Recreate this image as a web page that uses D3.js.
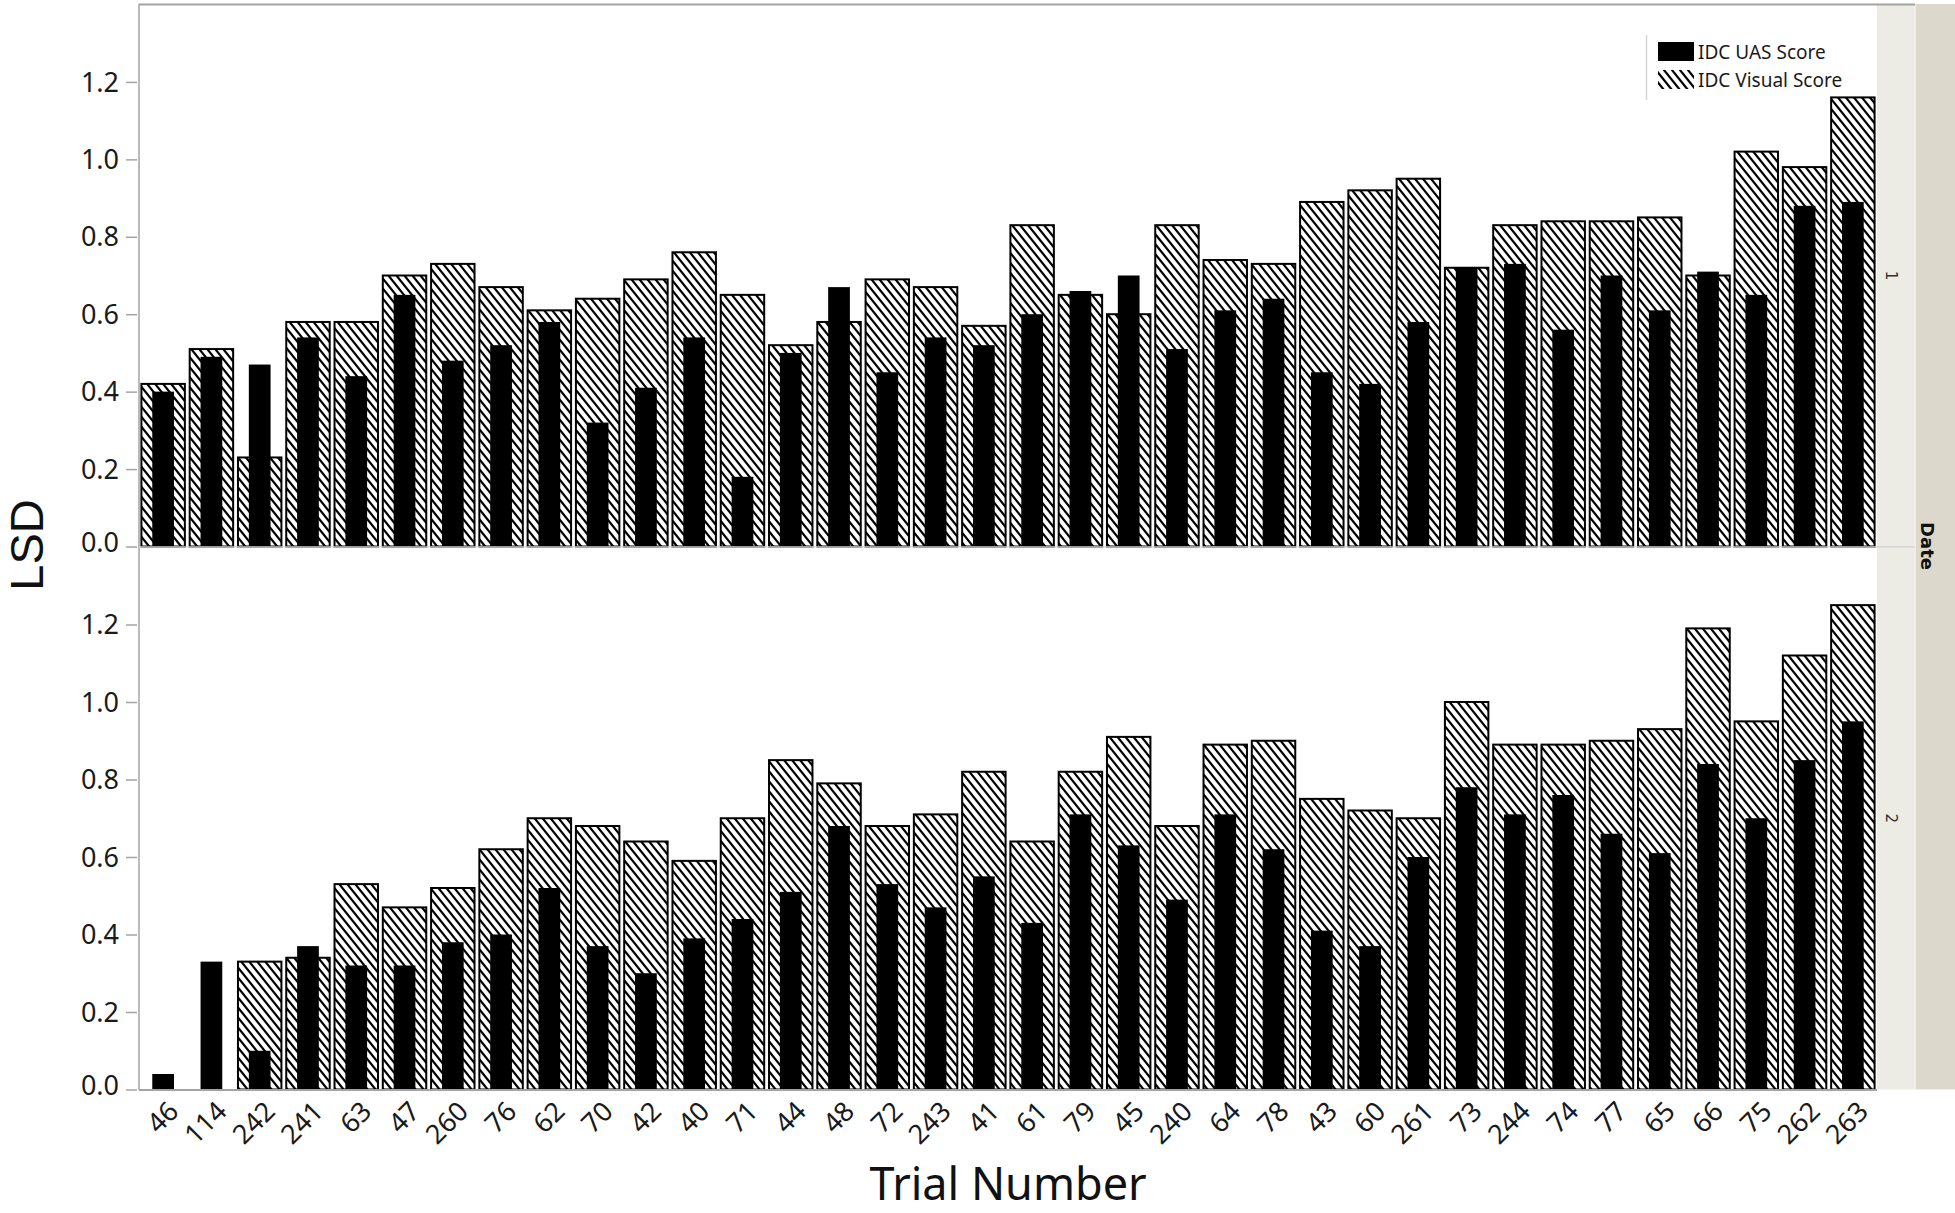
<!DOCTYPE html>
<html>
<head>
<meta charset="utf-8">
<script src="https://cdn.jsdelivr.net/npm/d3@7"></script>
<style>
  html, body { margin: 0; padding: 0; background: #fff; }
  svg { display: block; }
</style>
</head>
<body>
<svg id="chart" width="1955" height="1213"></svg>
<script>
// ---------------- data ----------------
const trials = ["46","114","242","241","63","47","260","76","62","70","42","40","71","44","48","72","243","41","61","79","45","240","64","78","43","60","261","73","244","74","77","65","66","75","262","263"];

const date1UAS    = [0.40,0.49,0.47,0.54,0.44,0.65,0.48,0.52,0.58,0.32,0.41,0.54,0.18,0.50,0.67,0.45,0.54,0.52,0.60,0.66,0.70,0.51,0.61,0.64,0.45,0.42,0.58,0.72,0.73,0.56,0.70,0.61,0.71,0.65,0.88,0.89];
const date1Visual = [0.42,0.51,0.23,0.58,0.58,0.70,0.73,0.67,0.61,0.64,0.69,0.76,0.65,0.52,0.58,0.69,0.67,0.57,0.83,0.65,0.60,0.83,0.74,0.73,0.89,0.92,0.95,0.72,0.83,0.84,0.84,0.85,0.70,1.02,0.98,1.16];
const date2UAS    = [0.04,0.33,0.10,0.37,0.32,0.32,0.38,0.40,0.52,0.37,0.30,0.39,0.44,0.51,0.68,0.53,0.47,0.55,0.43,0.71,0.63,0.49,0.71,0.62,0.41,0.37,0.60,0.78,0.71,0.76,0.66,0.61,0.84,0.70,0.85,0.95];
const date2Visual = [null,null,0.33,0.34,0.53,0.47,0.52,0.62,0.70,0.68,0.64,0.59,0.70,0.85,0.79,0.68,0.71,0.82,0.64,0.82,0.91,0.68,0.89,0.90,0.75,0.72,0.70,1.00,0.89,0.89,0.90,0.93,1.19,0.95,1.12,1.25];

const dateLabels = ["1","2"];
const yTicks = [0, 0.2, 0.4, 0.6, 0.8, 1.0, 1.2];
const seriesNames = ["IDC UAS Score","IDC Visual Score"];
const xTitle = "Trial Number";
const yTitle = "LSD";
const stripTitle = "Date";

// ---------------- layout ----------------
const svg = d3.select("#chart");
const plotL = 139, plotR = 1877, stripR1 = 1915, W = 1955;
const panels = [
  {top: 4.5, bottom: 546.5, uas: date1UAS, vis: date1Visual, label: dateLabels[0]},
  {top: 547, bottom: 1089.5, uas: date2UAS, vis: date2Visual, label: dateLabels[1]}
];
const gray = "#a3a3a3";
const fontMain = "'Noto Sans', 'Open Sans', sans-serif";

svg.append("rect").attr("width", W).attr("height", 1213).attr("fill", "#fff");

// hatch pattern
const defs = svg.append("defs");
const pat = defs.append("pattern").attr("id", "hatch")
  .attr("patternUnits", "userSpaceOnUse").attr("width", 8).attr("height", 10);
pat.append("rect").attr("width", 8).attr("height", 10).attr("fill", "#fff");
pat.append("path")
  .attr("d", "M-4,-5 L12,15 M-4,5 L4,15 M4,-5 L12,5")
  .attr("stroke", "#000").attr("stroke-width", 2.2).attr("fill", "none");

const x = d3.scaleBand().domain(trials).range([plotL, plotR]).paddingInner(0.1).paddingOuter(0.05);
const bw = x.bandwidth();

// strips
svg.append("rect").attr("x", plotR).attr("y", 4).attr("width", stripR1 - plotR).attr("height", 1089.5 - 4).attr("fill", "#ecebe4");
svg.append("rect").attr("x", stripR1).attr("y", 4).attr("width", W - stripR1).attr("height", 1089.5 - 4).attr("fill", "#dcd9cc");
svg.append("line").attr("x1", stripR1).attr("x2", stripR1).attr("y1", 4).attr("y2", 1089.5).attr("stroke", "#f4f3ee").attr("stroke-width", 1.5);

panels.forEach((p, pi) => {
  const y = d3.scaleLinear().domain([0, 1.4]).range([p.bottom, p.top]);
  const g = svg.append("g");

  // y axis ticks and labels
  const axis = d3.axisLeft(y).tickValues(yTicks).tickFormat(d3.format(".1f")).tickSize(11).tickPadding(7);
  const ag = g.append("g").attr("transform", `translate(${plotL - 2},0)`).call(axis);
  ag.select(".domain").remove();
  ag.selectAll(".tick line").attr("stroke", gray).attr("stroke-width", 1.5);
  ag.selectAll(".tick text")
    .attr("font-family", fontMain).attr("font-size", 27).attr("fill", "#1a1a1a")
    .attr("dy", d => d === 0 ? "0.2em" : "0.34em");

  // bars: hatched visual
  g.append("g").selectAll("rect").data(trials.map((t, i) => ({t, v: p.vis[i]})).filter(d => d.v != null))
    .join("rect")
    .attr("x", d => x(d.t)).attr("width", bw)
    .attr("y", d => y(d.v)).attr("height", d => y(0) - y(d.v))
    .attr("fill", "url(#hatch)").attr("stroke", "#000").attr("stroke-width", 2);

  // bars: solid UAS
  g.append("g").selectAll("rect").data(trials.map((t, i) => ({t, v: p.uas[i]})).filter(d => d.v != null))
    .join("rect")
    .attr("x", d => x(d.t) + bw / 4).attr("width", bw / 2)
    .attr("y", d => y(d.v)).attr("height", d => y(0) - y(d.v))
    .attr("fill", "#000");

  // strip label
  svg.append("text")
    .attr("transform", `translate(1886,${(p.top + p.bottom) / 2}) rotate(90)`)
    .attr("text-anchor", "middle").attr("font-family", "'DejaVu Sans', sans-serif")
    .attr("font-size", 15).attr("fill", "#333").text(p.label);
});

// frame lines
svg.append("line").attr("x1", plotL).attr("x2", stripR1).attr("y1", 4.5).attr("y2", 4.5).attr("stroke", gray).attr("stroke-width", 2);
svg.append("line").attr("x1", plotL).attr("x2", plotL).attr("y1", 4).attr("y2", 1090).attr("stroke", gray).attr("stroke-width", 1.5);
svg.append("line").attr("x1", plotL).attr("x2", stripR1).attr("y1", 546.8).attr("y2", 546.8).attr("stroke", "#cfcfcf").attr("stroke-width", 1.2);
svg.append("line").attr("x1", plotL).attr("x2", plotR).attr("y1", 1090).attr("y2", 1090).attr("stroke", gray).attr("stroke-width", 2);

// x labels
svg.append("g").selectAll("text").data(trials).join("text")
  .attr("transform", d => `translate(${x(d) + bw / 2 + 17},${1113}) rotate(-45)`)
  .attr("text-anchor", "end")
  .attr("font-family", fontMain).attr("font-size", 27).attr("fill", "#1a1a1a")
  .text(d => d);

// axis titles
svg.append("text").attr("x", (plotL + plotR) / 2).attr("y", 1199.5)
  .attr("text-anchor", "middle").attr("font-family", fontMain).attr("font-size", 45).attr("fill", "#111")
  .text(xTitle);
svg.append("text").attr("transform", "translate(43,545) rotate(-90)")
  .attr("text-anchor", "middle").attr("font-family", "'Liberation Sans', Arial, sans-serif").attr("font-size", 47).attr("fill", "#111")
  .text(yTitle);

// strip title
svg.append("text").attr("transform", "translate(1921,546) rotate(90)")
  .attr("text-anchor", "middle").attr("font-family", "'DejaVu Sans', sans-serif").attr("font-weight", "bold")
  .attr("font-size", 18).attr("fill", "#111").text(stripTitle);

// legend
const lg = svg.append("g");
lg.append("line").attr("x1", 1646.5).attr("x2", 1646.5).attr("y1", 35).attr("y2", 100).attr("stroke", "#d4d4d4").attr("stroke-width", 1.5);
lg.append("rect").attr("x", 1658).attr("y", 42).attr("width", 36).attr("height", 19).attr("fill", "#000");
lg.append("rect").attr("x", 1658).attr("y", 70).attr("width", 36).attr("height", 19).attr("fill", "url(#hatch)");
lg.selectAll("text.lab").data(seriesNames).join("text")
  .attr("x", 1698).attr("y", (d, i) => 59 + i * 28)
  .attr("font-family", fontMain).attr("font-size", 19).attr("fill", "#1a1a1a")
  .text(d => d);
</script>
</body>
</html>
